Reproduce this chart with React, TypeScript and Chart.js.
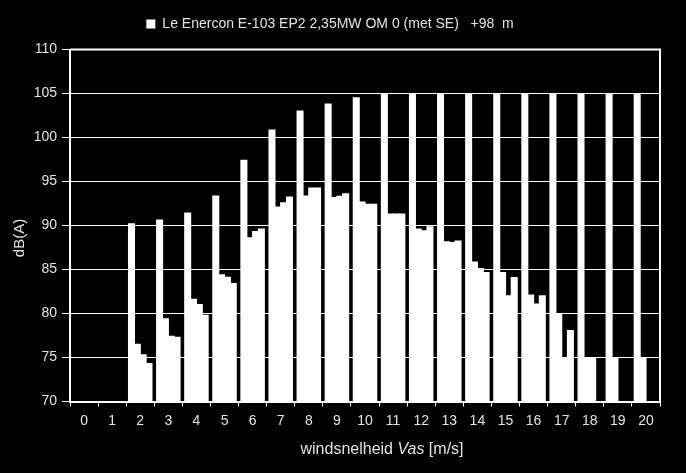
import React, { useEffect, useRef } from "react";
import { Chart, registerables } from "chart.js";

Chart.register(...registerables);

const categories = ["0","1","2","3","4","5","6","7","8","9","10","11","12","13","14","15","16","17","18","19","20"];
const seriesName = "Le Enercon E-103 EP2 2,35MW OM 0 (met SE)   +98  m";
const seriesA = [null, null, 90.2, 90.6, 91.4, 93.35, 97.4, 100.85, 103.0, 103.8, 104.5, 105, 105, 105, 105, 105, 105, 105, 105, 105, 105];
const seriesB = [null, null, 76.5, 79.4, 81.6, 84.4, 88.6, 92.1, 93.35, 93.16, 92.67, 91.3, 89.6, 88.13, 85.85, 84.64, 82.1, 79.87, 75, 75, 75];
const seriesC = [null, null, 75.3, 77.4, 81.0, 84.1, 89.3, 92.56, 94.26, 93.3, 92.4, 91.3, 89.4, 88.05, 85.1, 82.0, 81.08, 75, 75, null, null];
const seriesD = [null, null, 74.3, 77.3, 79.8, 83.4, 89.6, 93.24, 94.26, 93.6, 92.4, 91.3, 89.86, 88.24, 84.64, 84.07, 82.0, 78.05, null, null, null];
const yMin = 70;
const yMax = 110;
const yStep = 5;
const xTitleParts = [
  { text: "windsnelheid ", italic: false },
  { text: "Vas", italic: true },
  { text: " [m/s]", italic: false },
];
const yTitle = "dB(A)";

const FONT = "'Liberation Sans', Arial, sans-serif";
const TEXT = "#e2e2e2";

const legendGapPlugin = {
  id: "legendGapPlugin",
  afterInit(chart: any) {
    const legend = chart.legend;
    if (legend && !legend.__gapPatched) {
      const origFit = legend.fit.bind(legend);
      legend.fit = function () {
        origFit();
        this.height += 8.5;
      };
      legend.__gapPatched = true;
    }
  },
};

const titlesPlugin = {
  id: "titlesPlugin",
  afterDraw(chart: any) {
    const { ctx, chartArea } = chart;
    ctx.save();
    // frame (top + right)
    ctx.strokeStyle = "#ffffff";
    ctx.lineWidth = 2;
    ctx.beginPath();
    ctx.moveTo(chartArea.left, chartArea.top);
    ctx.lineTo(chartArea.right, chartArea.top);
    ctx.lineTo(chartArea.right, chartArea.bottom);
    ctx.stroke();

    // x title with italic part
    ctx.fillStyle = TEXT;
    ctx.textBaseline = "middle";
    const size = 16;
    let total = 0;
    const widths = xTitleParts.map((p) => {
      ctx.font = `${p.italic ? "italic " : ""}${size}px ${FONT}`;
      const w = ctx.measureText(p.text).width;
      total += w;
      return w;
    });
    let x = 382 - total / 2;
    const y = 450;
    xTitleParts.forEach((p, i) => {
      ctx.font = `${p.italic ? "italic " : ""}${size}px ${FONT}`;
      ctx.textAlign = "left";
      ctx.fillText(p.text, x, y);
      x += widths[i];
    });

    // y title
    ctx.translate(20, 238);
    ctx.rotate(-Math.PI / 2);
    ctx.font = `15px ${FONT}`;
    ctx.textAlign = "center";
    ctx.fillText(yTitle, 0, 0);
    ctx.restore();
  },
};

export default function App() {
  const ref = useRef<HTMLCanvasElement | null>(null);

  useEffect(() => {
    document.body.style.margin = "0";
    document.body.style.background = "#000";
    const canvas = ref.current;
    if (!canvas) return;
    const mk = (label: string, data: (number | null)[]) => ({
      label,
      data,
      backgroundColor: "#ffffff",
      borderWidth: 0,
      inflateAmount: 0.6,
      categoryPercentage: 0.83,
      barPercentage: 1.0,
    });
    const chart = new Chart(canvas, {
      type: "bar",
      data: {
        labels: categories,
        datasets: [
          mk(seriesName, seriesA),
          mk("b", seriesB),
          mk("c", seriesC),
          mk("d", seriesD),
        ] as any,
      },
      plugins: [legendGapPlugin, titlesPlugin],
      options: {
        animation: false,
        responsive: false,
        maintainAspectRatio: false,
        layout: { padding: { left: 0, right: 26, top: 4, bottom: 0 } },
        plugins: {
          tooltip: { enabled: false },
          legend: {
            display: true,
            position: "top",
            labels: {
              color: TEXT,
              font: { family: FONT, size: 14 },
              boxWidth: 9,
              boxHeight: 9,
              padding: 13,
              filter: (item: any) => item.datasetIndex === 0,
            },
          },
        },
        scales: {
          x: {
            offset: true,
            grid: {
              display: true,
              drawOnChartArea: false,
              drawTicks: true,
              tickLength: 5,
              color: "#ffffff",
              lineWidth: 1,
              offset: true,
            },
            border: { display: true, color: "#ffffff", width: 2 },
            ticks: {
              color: TEXT,
              font: { family: FONT, size: 14 },
              padding: 6,
              maxRotation: 0,
              autoSkip: false,
            },
            afterFit: (scale: any) => {
              scale.height = 71.5;
            },
          },
          y: {
            min: yMin,
            max: yMax,
            grid: {
              color: "#ffffff",
              lineWidth: 1,
              drawTicks: true,
              tickLength: 8,
            },
            border: { display: true, color: "#ffffff", width: 2 },
            ticks: {
              stepSize: yStep,
              color: TEXT,
              font: { family: FONT, size: 14 },
              padding: 5,
            },
            afterFit: (scale: any) => {
              scale.width = 70;
            },
          },
        },
      },
    });
    return () => chart.destroy();
  }, []);

  return (
    <div style={{ width: 686, height: 473, background: "#000" }}>
      <canvas ref={ref} width={686} height={473} style={{ display: "block" }} />
    </div>
  );
}
